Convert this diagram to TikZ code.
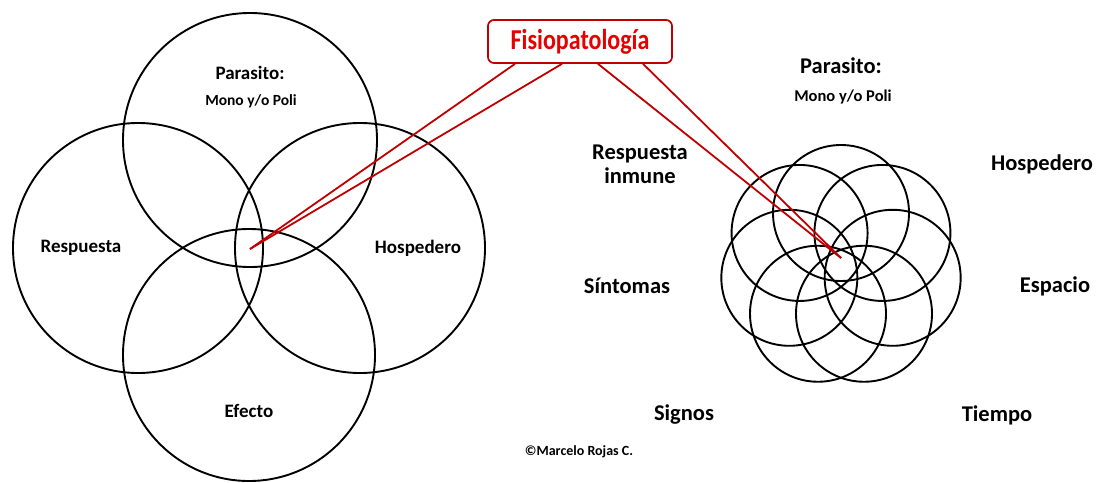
\documentclass[tikz,border=0pt]{standalone}
\usepackage{fontspec}
\setmainfont{Carlito}
\usetikzlibrary{calc}
\definecolor{fisioRed}{HTML}{C00000}
\definecolor{fisioText}{HTML}{E60000}
\tikzset{
    ring/.style={
        circle, draw=black, line width=1.9pt, inner sep=0pt
    },
    lblLeft/.style={
        font=\fontsize{19}{22}\selectfont\bfseries, align=center
    },
    lblRight/.style={
        font=\fontsize{22.5}{25}\selectfont\bfseries, align=center
    },
    lblSmall/.style={
        font=\fontsize{16.5}{18}\selectfont\bfseries
    },
    fisioBox/.style={
        draw=fisioRed, fill=white, line width=1.7pt, rounded corners=6pt, minimum width=184pt, minimum height=43pt,
        font=\fontsize{24}{26}\selectfont\bfseries, text=fisioText
    },
    fisioLine/.style={
        draw=fisioRed, line width=1.8pt
    }
}

\begin{document}
\begin{tikzpicture}[x=1pt, y=-1pt]
    \useasboundingbox (0,0) rectangle (1097,482);

    % ── LEFT: FOUR CIRCLES
    \node[ring, minimum size=254pt] (cTop) at (250,140) {};
    \node[ring, minimum size=250pt] (cLeft) at (138,248) {};
    \node[ring, minimum size=250pt] (cRight) at (360,248) {};
    \node[ring, minimum size=252pt] (cBottom) at (249,355) {};

    \node[lblLeft] (parL) at (250,73) {Parasito:};
    \node[lblSmall, font=\fontsize{15.5}{17}\selectfont\bfseries] (monoL) at (251,101) {Mono y/o Poli};
    \node[lblLeft] (respL) at (81,248) {Respuesta};
    \node[lblLeft] (hospL) at (418,248) {Hospedero};
    \node[lblLeft] (efecL) at (249,411) {Efecto};

    % ── RIGHT: SEVEN-CIRCLE FLOWER
    \coordinate (flower) at (841,266);
    \foreach \k in {0,...,6}{
        \node[ring, minimum size=136pt] (petal\k) at ($(flower)+(270+\k*360/7:53)$) {};
    }

    \node[lblRight] (parR) at (841,66) {Parasito:};
    \node[lblSmall] (monoR) at (843,97) {Mono y/o Poli};
    \node[lblRight] (respR) at (640,164) {Respuesta\\[-1pt]inmune};
    \node[lblRight] (hospR) at (1042,164) {Hospedero};
    \node[lblRight] (sintR) at (627,286) {Síntomas};
    \node[lblRight] (espaR) at (1055,286) {Espacio};
    \node[lblRight] (signR) at (684,415) {Signos};
    \node[lblRight] (tiemR) at (997,415) {Tiempo};

    % ── FISIOPATOLOGIA
    \coordinate (hubL) at (250,249);
    \coordinate (hubR) at (841,258);
    \node[fisioBox] (fisio) at (580,41.5) {\scalebox{1}[1.2]{Fisiopatología}};
    \draw[fisioLine] ($(fisio.south)+(-65,0)$) -- (hubL);
    \draw[fisioLine] ($(fisio.south)+(-18,0)$) -- (hubL);
    \draw[fisioLine] ($(fisio.south)+(18,0)$) -- (hubR);
    \draw[fisioLine] ($(fisio.south)+(63,0)$) -- (hubR);

    \node[font=\fontsize{14}{16}\selectfont\bfseries] (copy) at (579,452) {©Marcelo Rojas C.};
\end{tikzpicture}
\end{document}
